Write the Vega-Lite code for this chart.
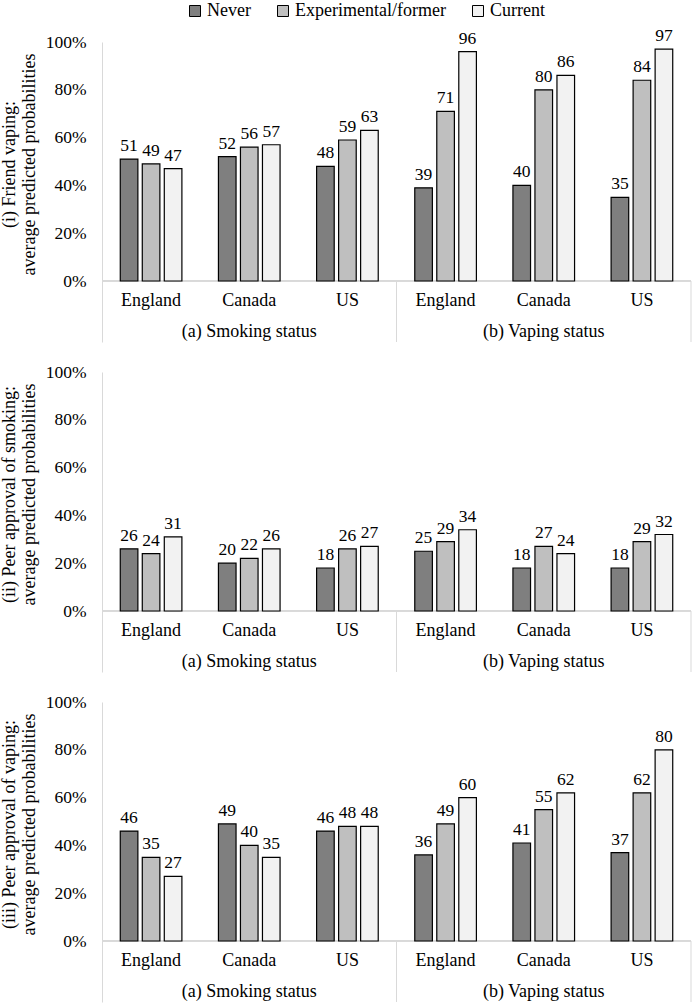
{
  "$schema": "https://vega.github.io/schema/vega-lite/v6.json",
  "padding": {"top": 2, "left": 0, "right": 0, "bottom": 0},
  "config": {
    "font": "Liberation Serif, Times New Roman, DejaVu Serif, serif",
    "view": {"stroke": null},
    "concat": {"spacing": 20},
    "legend": {
      "orient": "none",
      "legendX": 84,
      "legendY": -40,
      "padding": 0,
      "direction": "horizontal",
      "symbolType": "square",
      "symbolSize": 121,
      "symbolStrokeColor": "black",
      "symbolStrokeWidth": 1,
      "labelFont": "Liberation Serif, Times New Roman, DejaVu Serif, serif",
      "labelFontSize": 18,
      "labelColor": "black",
      "labelOffset": 3,
      "columnPadding": 23
    }
  },
  "data": {
    "values": [
      {"p": "i", "sec": "(a) Smoking status", "grp": "a-England", "country": "England", "status": "Never", "value": 51},
      {"p": "i", "sec": "(a) Smoking status", "grp": "a-England", "country": "England", "status": "Experimental/former", "value": 49},
      {"p": "i", "sec": "(a) Smoking status", "grp": "a-England", "country": "England", "status": "Current", "value": 47},
      {"p": "i", "sec": "(a) Smoking status", "grp": "a-Canada", "country": "Canada", "status": "Never", "value": 52},
      {"p": "i", "sec": "(a) Smoking status", "grp": "a-Canada", "country": "Canada", "status": "Experimental/former", "value": 56},
      {"p": "i", "sec": "(a) Smoking status", "grp": "a-Canada", "country": "Canada", "status": "Current", "value": 57},
      {"p": "i", "sec": "(a) Smoking status", "grp": "a-US", "country": "US", "status": "Never", "value": 48},
      {"p": "i", "sec": "(a) Smoking status", "grp": "a-US", "country": "US", "status": "Experimental/former", "value": 59},
      {"p": "i", "sec": "(a) Smoking status", "grp": "a-US", "country": "US", "status": "Current", "value": 63},
      {"p": "i", "sec": "(b) Vaping status", "grp": "b-England", "country": "England", "status": "Never", "value": 39},
      {"p": "i", "sec": "(b) Vaping status", "grp": "b-England", "country": "England", "status": "Experimental/former", "value": 71},
      {"p": "i", "sec": "(b) Vaping status", "grp": "b-England", "country": "England", "status": "Current", "value": 96},
      {"p": "i", "sec": "(b) Vaping status", "grp": "b-Canada", "country": "Canada", "status": "Never", "value": 40},
      {"p": "i", "sec": "(b) Vaping status", "grp": "b-Canada", "country": "Canada", "status": "Experimental/former", "value": 80},
      {"p": "i", "sec": "(b) Vaping status", "grp": "b-Canada", "country": "Canada", "status": "Current", "value": 86},
      {"p": "i", "sec": "(b) Vaping status", "grp": "b-US", "country": "US", "status": "Never", "value": 35},
      {"p": "i", "sec": "(b) Vaping status", "grp": "b-US", "country": "US", "status": "Experimental/former", "value": 84},
      {"p": "i", "sec": "(b) Vaping status", "grp": "b-US", "country": "US", "status": "Current", "value": 97},

      {"p": "ii", "sec": "(a) Smoking status", "grp": "a-England", "country": "England", "status": "Never", "value": 26},
      {"p": "ii", "sec": "(a) Smoking status", "grp": "a-England", "country": "England", "status": "Experimental/former", "value": 24},
      {"p": "ii", "sec": "(a) Smoking status", "grp": "a-England", "country": "England", "status": "Current", "value": 31},
      {"p": "ii", "sec": "(a) Smoking status", "grp": "a-Canada", "country": "Canada", "status": "Never", "value": 20},
      {"p": "ii", "sec": "(a) Smoking status", "grp": "a-Canada", "country": "Canada", "status": "Experimental/former", "value": 22},
      {"p": "ii", "sec": "(a) Smoking status", "grp": "a-Canada", "country": "Canada", "status": "Current", "value": 26},
      {"p": "ii", "sec": "(a) Smoking status", "grp": "a-US", "country": "US", "status": "Never", "value": 18},
      {"p": "ii", "sec": "(a) Smoking status", "grp": "a-US", "country": "US", "status": "Experimental/former", "value": 26},
      {"p": "ii", "sec": "(a) Smoking status", "grp": "a-US", "country": "US", "status": "Current", "value": 27},
      {"p": "ii", "sec": "(b) Vaping status", "grp": "b-England", "country": "England", "status": "Never", "value": 25},
      {"p": "ii", "sec": "(b) Vaping status", "grp": "b-England", "country": "England", "status": "Experimental/former", "value": 29},
      {"p": "ii", "sec": "(b) Vaping status", "grp": "b-England", "country": "England", "status": "Current", "value": 34},
      {"p": "ii", "sec": "(b) Vaping status", "grp": "b-Canada", "country": "Canada", "status": "Never", "value": 18},
      {"p": "ii", "sec": "(b) Vaping status", "grp": "b-Canada", "country": "Canada", "status": "Experimental/former", "value": 27},
      {"p": "ii", "sec": "(b) Vaping status", "grp": "b-Canada", "country": "Canada", "status": "Current", "value": 24},
      {"p": "ii", "sec": "(b) Vaping status", "grp": "b-US", "country": "US", "status": "Never", "value": 18},
      {"p": "ii", "sec": "(b) Vaping status", "grp": "b-US", "country": "US", "status": "Experimental/former", "value": 29},
      {"p": "ii", "sec": "(b) Vaping status", "grp": "b-US", "country": "US", "status": "Current", "value": 32},

      {"p": "iii", "sec": "(a) Smoking status", "grp": "a-England", "country": "England", "status": "Never", "value": 46},
      {"p": "iii", "sec": "(a) Smoking status", "grp": "a-England", "country": "England", "status": "Experimental/former", "value": 35},
      {"p": "iii", "sec": "(a) Smoking status", "grp": "a-England", "country": "England", "status": "Current", "value": 27},
      {"p": "iii", "sec": "(a) Smoking status", "grp": "a-Canada", "country": "Canada", "status": "Never", "value": 49},
      {"p": "iii", "sec": "(a) Smoking status", "grp": "a-Canada", "country": "Canada", "status": "Experimental/former", "value": 40},
      {"p": "iii", "sec": "(a) Smoking status", "grp": "a-Canada", "country": "Canada", "status": "Current", "value": 35},
      {"p": "iii", "sec": "(a) Smoking status", "grp": "a-US", "country": "US", "status": "Never", "value": 46},
      {"p": "iii", "sec": "(a) Smoking status", "grp": "a-US", "country": "US", "status": "Experimental/former", "value": 48},
      {"p": "iii", "sec": "(a) Smoking status", "grp": "a-US", "country": "US", "status": "Current", "value": 48},
      {"p": "iii", "sec": "(b) Vaping status", "grp": "b-England", "country": "England", "status": "Never", "value": 36},
      {"p": "iii", "sec": "(b) Vaping status", "grp": "b-England", "country": "England", "status": "Experimental/former", "value": 49},
      {"p": "iii", "sec": "(b) Vaping status", "grp": "b-England", "country": "England", "status": "Current", "value": 60},
      {"p": "iii", "sec": "(b) Vaping status", "grp": "b-Canada", "country": "Canada", "status": "Never", "value": 41},
      {"p": "iii", "sec": "(b) Vaping status", "grp": "b-Canada", "country": "Canada", "status": "Experimental/former", "value": 55},
      {"p": "iii", "sec": "(b) Vaping status", "grp": "b-Canada", "country": "Canada", "status": "Current", "value": 62},
      {"p": "iii", "sec": "(b) Vaping status", "grp": "b-US", "country": "US", "status": "Never", "value": 37},
      {"p": "iii", "sec": "(b) Vaping status", "grp": "b-US", "country": "US", "status": "Experimental/former", "value": 62},
      {"p": "iii", "sec": "(b) Vaping status", "grp": "b-US", "country": "US", "status": "Current", "value": 80}
    ]
  },
  "vconcat": [
    {
      "width": 589,
      "height": 300,
      "transform": [{"filter": "datum.p == 'i'"}],
      "resolve": {"axis": {"y": "independent"}},
      "layer": [
        {
          "mark": {"type": "rule", "color": "#d9d9d9"},
          "encoding": {"y": {"datum": 0, "type": "quantitative", "axis": null}}
        },
        {
          "transform": [{"filter": "datum.grp == 'b-England' && datum.status == 'Never'"}],
          "mark": {"type": "rule", "color": "#d9d9d9"},
          "encoding": {
            "x": {"field": "grp", "type": "nominal", "bandPosition": 0, "axis": null},
            "y": {"datum": 0, "type": "quantitative", "axis": null},
            "y2": {"datum": -25.52}
          }
        },
        {
          "transform": [{"filter": "datum.grp == 'b-US' && datum.status == 'Never'"}],
          "mark": {"type": "rule", "color": "#d9d9d9"},
          "encoding": {
            "x": {"field": "grp", "type": "nominal", "bandPosition": 1, "axis": null},
            "y": {"datum": 0, "type": "quantitative", "axis": null},
            "y2": {"datum": -25.52}
          }
        },
        {
          "mark": {"type": "bar", "stroke": "black", "strokeWidth": 1.2},
          "encoding": {
            "x": {"field": "grp", "type": "nominal", "axis": null,
                  "scale": {"domain": ["a-England", "a-Canada", "a-US", "b-England", "b-Canada", "b-US"], "paddingInner": 0, "paddingOuter": 0}},
            "xOffset": {"field": "status", "type": "nominal",
                        "scale": {"domain": ["Never", "Experimental/former", "Current"], "paddingInner": 0.2, "paddingOuter": 0.83}},
            "y": {"field": "value", "type": "quantitative",
                  "scale": {"domain": [-25.52, 100], "nice": false, "zero": false},
                  "axis": {"values": [0, 20, 40, 60, 80, 100], "labelExpr": "datum.value + '%'",
                           "title": ["(i) Friend vaping:", "average predicted probabilities"],
                           "grid": false, "ticks": false, "domainColor": "#d9d9d9",
                           "labelPadding": 16, "labelFontSize": 17.5, "labelColor": "black",
                           "titleFontSize": 18, "titleFontWeight": "normal", "titleColor": "black",
                           "titlePadding": 7, "titleLineHeight": 20, "titleY": 122}},
            "color": {"field": "status", "type": "nominal", "title": null,
                      "scale": {"domain": ["Never", "Experimental/former", "Current"], "range": ["#7f7f7f", "#bfbfbf", "#f2f2f2"]}}
          }
        },
        {
          "mark": {"type": "text", "dy": -8, "baseline": "alphabetic", "fontSize": 17.5, "color": "black", "font": "Liberation Serif, Times New Roman, DejaVu Serif, serif"},
          "encoding": {
            "x": {"field": "grp", "type": "nominal", "axis": null},
            "xOffset": {"field": "status", "type": "nominal"},
            "y": {"field": "value", "type": "quantitative", "axis": null},
            "text": {"field": "value", "type": "quantitative"}
          }
        },
        {
          "transform": [{"filter": "datum.status == 'Never'"}],
          "mark": {"type": "text", "fontSize": 18, "baseline": "middle", "color": "black", "font": "Liberation Serif, Times New Roman, DejaVu Serif, serif"},
          "encoding": {
            "x": {"field": "grp", "type": "nominal", "axis": null},
            "y": {"datum": -8.4, "type": "quantitative", "axis": null},
            "text": {"field": "country", "type": "nominal"}
          }
        },
        {
          "transform": [{"filter": "datum.status == 'Never' && datum.country == 'Canada'"}],
          "mark": {"type": "text", "fontSize": 18, "baseline": "middle", "color": "black", "font": "Liberation Serif, Times New Roman, DejaVu Serif, serif"},
          "encoding": {
            "x": {"field": "grp", "type": "nominal", "axis": null},
            "y": {"datum": -21.3, "type": "quantitative", "axis": null},
            "text": {"field": "sec", "type": "nominal"}
          }
        }
      ]
    },
    {
      "width": 589,
      "height": 300,
      "transform": [{"filter": "datum.p == 'ii'"}],
      "resolve": {"axis": {"y": "independent"}},
      "layer": [
        {
          "mark": {"type": "rule", "color": "#d9d9d9"},
          "encoding": {"y": {"datum": 0, "type": "quantitative", "axis": null}}
        },
        {
          "transform": [{"filter": "datum.grp == 'b-England' && datum.status == 'Never'"}],
          "mark": {"type": "rule", "color": "#d9d9d9"},
          "encoding": {
            "x": {"field": "grp", "type": "nominal", "bandPosition": 0, "axis": null},
            "y": {"datum": 0, "type": "quantitative", "axis": null},
            "y2": {"datum": -25.52}
          }
        },
        {
          "transform": [{"filter": "datum.grp == 'b-US' && datum.status == 'Never'"}],
          "mark": {"type": "rule", "color": "#d9d9d9"},
          "encoding": {
            "x": {"field": "grp", "type": "nominal", "bandPosition": 1, "axis": null},
            "y": {"datum": 0, "type": "quantitative", "axis": null},
            "y2": {"datum": -25.52}
          }
        },
        {
          "mark": {"type": "bar", "stroke": "black", "strokeWidth": 1.2},
          "encoding": {
            "x": {"field": "grp", "type": "nominal", "axis": null,
                  "scale": {"domain": ["a-England", "a-Canada", "a-US", "b-England", "b-Canada", "b-US"], "paddingInner": 0, "paddingOuter": 0}},
            "xOffset": {"field": "status", "type": "nominal",
                        "scale": {"domain": ["Never", "Experimental/former", "Current"], "paddingInner": 0.2, "paddingOuter": 0.83}},
            "y": {"field": "value", "type": "quantitative",
                  "scale": {"domain": [-25.52, 100], "nice": false, "zero": false},
                  "axis": {"values": [0, 20, 40, 60, 80, 100], "labelExpr": "datum.value + '%'",
                           "title": ["(ii) Peer approval of smoking:", "average predicted probabilities"],
                           "grid": false, "ticks": false, "domainColor": "#d9d9d9",
                           "labelPadding": 16, "labelFontSize": 17.5, "labelColor": "black",
                           "titleFontSize": 18, "titleFontWeight": "normal", "titleColor": "black",
                           "titlePadding": 7, "titleLineHeight": 20, "titleY": 122}},
            "color": {"field": "status", "type": "nominal", "title": null,
                      "scale": {"domain": ["Never", "Experimental/former", "Current"], "range": ["#7f7f7f", "#bfbfbf", "#f2f2f2"]}}
          }
        },
        {
          "mark": {"type": "text", "dy": -8, "baseline": "alphabetic", "fontSize": 17.5, "color": "black", "font": "Liberation Serif, Times New Roman, DejaVu Serif, serif"},
          "encoding": {
            "x": {"field": "grp", "type": "nominal", "axis": null},
            "xOffset": {"field": "status", "type": "nominal"},
            "y": {"field": "value", "type": "quantitative", "axis": null},
            "text": {"field": "value", "type": "quantitative"}
          }
        },
        {
          "transform": [{"filter": "datum.status == 'Never'"}],
          "mark": {"type": "text", "fontSize": 18, "baseline": "middle", "color": "black", "font": "Liberation Serif, Times New Roman, DejaVu Serif, serif"},
          "encoding": {
            "x": {"field": "grp", "type": "nominal", "axis": null},
            "y": {"datum": -8.4, "type": "quantitative", "axis": null},
            "text": {"field": "country", "type": "nominal"}
          }
        },
        {
          "transform": [{"filter": "datum.status == 'Never' && datum.country == 'Canada'"}],
          "mark": {"type": "text", "fontSize": 18, "baseline": "middle", "color": "black", "font": "Liberation Serif, Times New Roman, DejaVu Serif, serif"},
          "encoding": {
            "x": {"field": "grp", "type": "nominal", "axis": null},
            "y": {"datum": -21.3, "type": "quantitative", "axis": null},
            "text": {"field": "sec", "type": "nominal"}
          }
        }
      ]
    },
    {
      "width": 589,
      "height": 300,
      "transform": [{"filter": "datum.p == 'iii'"}],
      "resolve": {"axis": {"y": "independent"}},
      "layer": [
        {
          "mark": {"type": "rule", "color": "#d9d9d9"},
          "encoding": {"y": {"datum": 0, "type": "quantitative", "axis": null}}
        },
        {
          "transform": [{"filter": "datum.grp == 'b-England' && datum.status == 'Never'"}],
          "mark": {"type": "rule", "color": "#d9d9d9"},
          "encoding": {
            "x": {"field": "grp", "type": "nominal", "bandPosition": 0, "axis": null},
            "y": {"datum": 0, "type": "quantitative", "axis": null},
            "y2": {"datum": -25.52}
          }
        },
        {
          "transform": [{"filter": "datum.grp == 'b-US' && datum.status == 'Never'"}],
          "mark": {"type": "rule", "color": "#d9d9d9"},
          "encoding": {
            "x": {"field": "grp", "type": "nominal", "bandPosition": 1, "axis": null},
            "y": {"datum": 0, "type": "quantitative", "axis": null},
            "y2": {"datum": -25.52}
          }
        },
        {
          "mark": {"type": "bar", "stroke": "black", "strokeWidth": 1.2},
          "encoding": {
            "x": {"field": "grp", "type": "nominal", "axis": null,
                  "scale": {"domain": ["a-England", "a-Canada", "a-US", "b-England", "b-Canada", "b-US"], "paddingInner": 0, "paddingOuter": 0}},
            "xOffset": {"field": "status", "type": "nominal",
                        "scale": {"domain": ["Never", "Experimental/former", "Current"], "paddingInner": 0.2, "paddingOuter": 0.83}},
            "y": {"field": "value", "type": "quantitative",
                  "scale": {"domain": [-25.52, 100], "nice": false, "zero": false},
                  "axis": {"values": [0, 20, 40, 60, 80, 100], "labelExpr": "datum.value + '%'",
                           "title": ["(iii) Peer approval of vaping:", "average predicted probabilities"],
                           "grid": false, "ticks": false, "domainColor": "#d9d9d9",
                           "labelPadding": 16, "labelFontSize": 17.5, "labelColor": "black",
                           "titleFontSize": 18, "titleFontWeight": "normal", "titleColor": "black",
                           "titlePadding": 7, "titleLineHeight": 20, "titleY": 122}},
            "color": {"field": "status", "type": "nominal", "title": null,
                      "scale": {"domain": ["Never", "Experimental/former", "Current"], "range": ["#7f7f7f", "#bfbfbf", "#f2f2f2"]}}
          }
        },
        {
          "mark": {"type": "text", "dy": -8, "baseline": "alphabetic", "fontSize": 17.5, "color": "black", "font": "Liberation Serif, Times New Roman, DejaVu Serif, serif"},
          "encoding": {
            "x": {"field": "grp", "type": "nominal", "axis": null},
            "xOffset": {"field": "status", "type": "nominal"},
            "y": {"field": "value", "type": "quantitative", "axis": null},
            "text": {"field": "value", "type": "quantitative"}
          }
        },
        {
          "transform": [{"filter": "datum.status == 'Never'"}],
          "mark": {"type": "text", "fontSize": 18, "baseline": "middle", "color": "black", "font": "Liberation Serif, Times New Roman, DejaVu Serif, serif"},
          "encoding": {
            "x": {"field": "grp", "type": "nominal", "axis": null},
            "y": {"datum": -8.4, "type": "quantitative", "axis": null},
            "text": {"field": "country", "type": "nominal"}
          }
        },
        {
          "transform": [{"filter": "datum.status == 'Never' && datum.country == 'Canada'"}],
          "mark": {"type": "text", "fontSize": 18, "baseline": "middle", "color": "black", "font": "Liberation Serif, Times New Roman, DejaVu Serif, serif"},
          "encoding": {
            "x": {"field": "grp", "type": "nominal", "axis": null},
            "y": {"datum": -21.3, "type": "quantitative", "axis": null},
            "text": {"field": "sec", "type": "nominal"}
          }
        }
      ]
    }
  ]
}
